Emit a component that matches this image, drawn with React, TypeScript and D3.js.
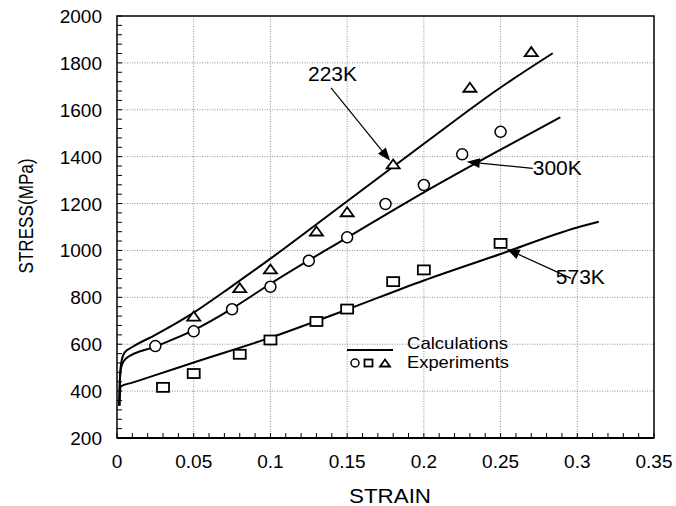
import React from 'react';
import * as d3 from 'd3';

// calculated curves [strain, stress MPa]
const calc223K: [number, number][] = [
    [0.0015, 338], [0.002, 470], [0.003, 530], [0.005, 565], [0.01, 588], [0.025, 640],
    [0.05, 735], [0.075, 848], [0.1, 965], [0.15, 1210], [0.2, 1455], [0.25, 1695], [0.284, 1841],
];
const calc300K: [number, number][] = [
    [0.0015, 338], [0.002, 460], [0.003, 508], [0.006, 540], [0.025, 590], [0.05, 660],
    [0.075, 752], [0.1, 858], [0.15, 1055], [0.2, 1248], [0.25, 1430], [0.289, 1568],
];
const calc573K: [number, number][] = [
    [0.0015, 338], [0.0025, 420], [0.01, 436], [0.025, 468], [0.05, 522], [0.1, 628], [0.15, 748],
    [0.2, 872], [0.25, 985], [0.3, 1098], [0.314, 1122],
];

// experiments
const exp223K: [number, number][] = [
    [0.05, 720], [0.08, 841], [0.1, 921], [0.13, 1083], [0.15, 1165],
    [0.18, 1369], [0.23, 1696], [0.27, 1848],
];
const exp300K: [number, number][] = [
    [0.025, 592], [0.05, 655], [0.075, 749], [0.1, 845], [0.125, 956], [0.15, 1056],
    [0.175, 1198], [0.2, 1279], [0.225, 1410], [0.25, 1506],
];
const exp573K: [number, number][] = [
    [0.03, 416], [0.05, 475], [0.08, 557], [0.1, 618], [0.13, 697], [0.15, 750],
    [0.18, 867], [0.2, 917], [0.25, 1030],
];

const xTicks = [0, 0.05, 0.1, 0.15, 0.2, 0.25, 0.3, 0.35];
const yTicks = [200, 400, 600, 800, 1000, 1200, 1400, 1600, 1800, 2000];

// annotations: label, text anchor point, arrow tail, arrow tip (data units)
const labels = [
    { text: '223K', at: [0.1245, 1724], from: [0.1395, 1693], to: [0.178, 1383] },
    { text: '300K', at: [0.271, 1322], from: [0.271, 1350], to: [0.228, 1378] },
    { text: '573K', at: [0.286, 856], from: [0.296, 881], to: [0.254, 1006] },
];

const FONT = 'Liberation Sans, Arial, Helvetica, sans-serif';

const App = () => {
    const width = 676;
    const height = 506;
    const x = d3.scaleLinear().domain([0, 0.35]).range([117, 654]);
    const y = d3.scaleLinear().domain([200, 2000]).range([438, 16]);

    const line = d3.line<[number, number]>()
        .x(d => x(d[0]))
        .y(d => y(d[1]))
        .curve(d3.curveMonotoneX);

    const xMinor = d3.range(0, 0.35001, 0.01);
    const yMinor = d3.range(200, 2000.1, 40);

    const circle = (cx: number, cy: number, r: number, k: string) =>
        <circle key={k} cx={cx} cy={cy} r={r} fill="white" stroke="black" strokeWidth={1.5} />;
    const square = (cx: number, cy: number, w: number, h: number, k: string) =>
        <rect key={k} x={cx - w / 2} y={cy - h / 2} width={w} height={h} fill="white" stroke="black" strokeWidth={1.8} />;
    const tri = (cx: number, cy: number, w: number, h: number, k: string) =>
        <path key={k} d={`M${cx - w / 2},${cy + h / 2}L${cx + w / 2},${cy + h / 2}L${cx},${cy - h / 2}Z`}
            fill="white" stroke="black" strokeWidth={1.8} strokeLinejoin="miter" />;

    const arrow = (x1: number, y1: number, x2: number, y2: number, k: string) => {
        const ang = Math.atan2(y2 - y1, x2 - x1);
        const len = 13, half = 5;
        const bx = x2 - len * Math.cos(ang), by = y2 - len * Math.sin(ang);
        const px = -Math.sin(ang) * half, py = Math.cos(ang) * half;
        return (
            <g key={k}>
                <line x1={x1} y1={y1} x2={bx} y2={by} stroke="black" strokeWidth={1.2} />
                <path d={`M${x2},${y2}L${bx + px},${by + py}L${bx - px},${by - py}Z`} fill="black" />
            </g>
        );
    };

    return (
        <svg width={width} height={height} style={{ position: 'absolute', left: 0, top: 0, background: 'white' }}
            fontFamily={FONT}>
            {/* grid */}
            <g stroke="#777" strokeWidth={0.8} strokeDasharray="1,1.5">
                {xTicks.slice(1, -1).map(t => <line key={'gx' + t} x1={x(t)} x2={x(t)} y1={y(2000)} y2={y(200)} />)}
                {yTicks.slice(1, -1).map(t => <line key={'gy' + t} x1={x(0)} x2={x(0.35)} y1={y(t)} y2={y(t)} />)}
            </g>
            {/* minor ticks */}
            <g stroke="black" strokeWidth={1}>
                {xMinor.map((t, i) => <line key={'mx' + i} x1={x(t)} x2={x(t)} y1={y(200)} y2={y(200) - 5} />)}
                {yMinor.map((t, i) => <line key={'my' + i} x1={x(0)} x2={x(0) + 5} y1={y(t)} y2={y(t)} />)}
            </g>
            {/* frame */}
            <rect x={x(0)} y={y(2000)} width={x(0.35) - x(0)} height={y(200) - y(2000)}
                fill="none" stroke="black" strokeWidth={1.5} />
            <line x1={x(0)} x2={x(0.35)} y1={y(200)} y2={y(200)} stroke="black" strokeWidth={2} />

            {/* tick labels */}
            <g fontSize={19} fill="black">
                {xTicks.map(t => (
                    <text key={'tx' + t} x={x(t)} y={468} textAnchor="middle">{d3.format('~g')(t)}</text>
                ))}
                {yTicks.map(t => (
                    <text key={'ty' + t} x={102} y={y(t) + 7} textAnchor="end">{t}</text>
                ))}
            </g>

            {/* axis titles */}
            <text x={390} y={503} fontSize={20} textAnchor="middle" textLength={82} lengthAdjust="spacingAndGlyphs">STRAIN</text>
            <text transform={`translate(33,216) rotate(-90)`} fontSize={20} textAnchor="middle"
                textLength={115} lengthAdjust="spacingAndGlyphs">STRESS(MPa)</text>

            {/* calculated curves */}
            <g fill="none" stroke="black" strokeWidth={2}>
                <path d={line(calc223K) || ''} />
                <path d={line(calc300K) || ''} />
                <path d={line(calc573K) || ''} />
            </g>

            {/* experiments */}
            {exp300K.map((d, i) => circle(x(d[0]), y(d[1]), 5.5, 'c' + i))}
            {exp573K.map((d, i) => square(x(d[0]), y(d[1]), 12, 9, 's' + i))}
            {exp223K.map((d, i) => tri(x(d[0]), y(d[1]), 13, 9, 't' + i))}

            {/* annotations */}
            {labels.map(l => (
                <g key={l.text}>
                    {arrow(x(l.from[0]), y(l.from[1]), x(l.to[0]), y(l.to[1]), 'a' + l.text)}
                    <text x={x(l.at[0])} y={y(l.at[1])} fontSize={20} textLength={49} lengthAdjust="spacingAndGlyphs">{l.text}</text>
                </g>
            ))}

            {/* legend */}
            <line x1={347} x2={393} y1={350} y2={350} stroke="black" strokeWidth={2} />
            <text x={407} y={349} fontSize={17} textLength={101} lengthAdjust="spacingAndGlyphs">Calculations</text>
            {circle(355, 363, 4, 'lc')}
            {square(368.5, 363, 8, 7, 'ls')}
            {tri(385, 363, 10, 7, 'lt')}
            <text x={407} y={368} fontSize={17} textLength={102} lengthAdjust="spacingAndGlyphs">Experiments</text>
        </svg>
    );
};

export default App;
